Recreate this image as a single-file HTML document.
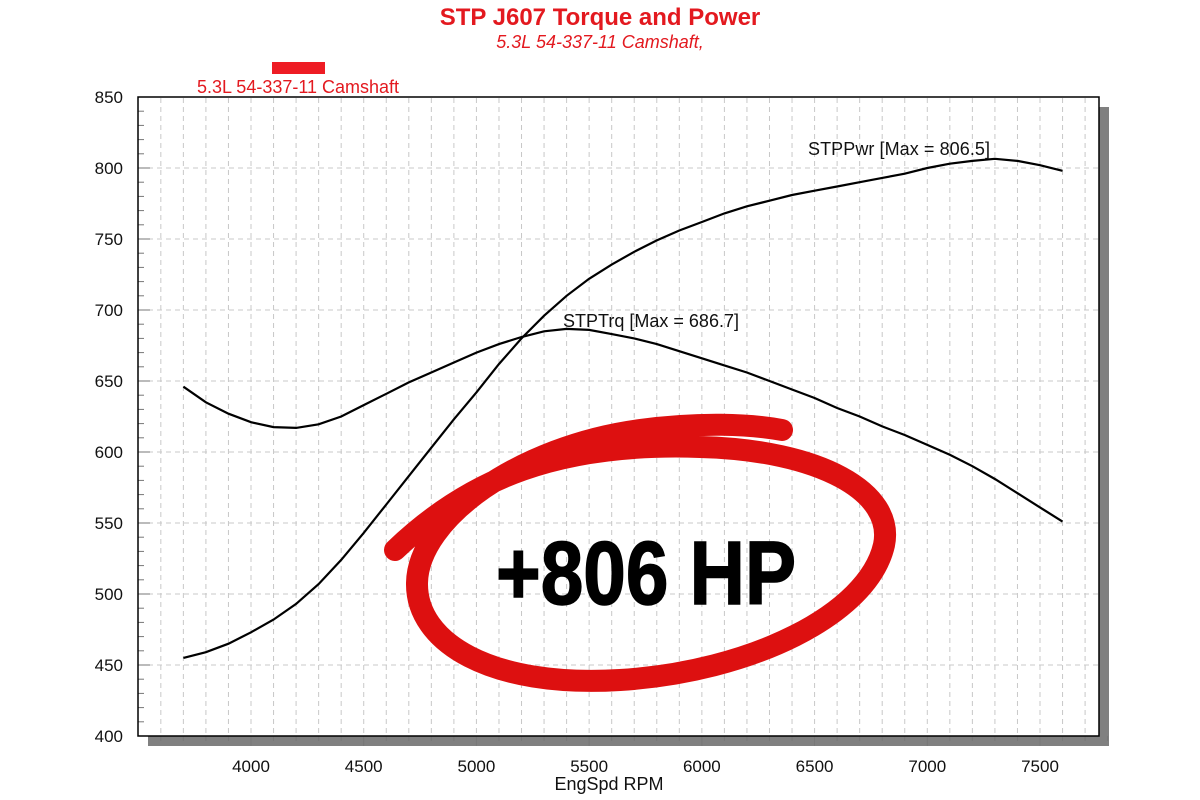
<!DOCTYPE html>
<html><head><meta charset="utf-8"><style>
html,body{margin:0;padding:0;background:#fff;}
svg{display:block;}
</style></head><body>
<svg id="s" width="1200" height="800" xmlns="http://www.w3.org/2000/svg" font-family="Liberation Sans, Arial, sans-serif">
<text x="600" y="25" text-anchor="middle" font-size="24" font-weight="bold" fill="#e3191f">STP J607 Torque and Power</text>
<text x="600" y="48" text-anchor="middle" font-size="18" font-style="italic" fill="#e3191f">5.3L 54-337-11 Camshaft,</text>
<rect x="272" y="62" width="53" height="12" fill="#ee1c24"/>
<text x="298" y="93" text-anchor="middle" font-size="18" fill="#e3191f">5.3L 54-337-11 Camshaft</text>
<rect x="148" y="107" width="961" height="639" fill="#808080"/>
<rect x="138" y="97" width="961" height="639" fill="#fff"/>
<g id="grid" stroke="#c8c8c8" stroke-width="1" stroke-dasharray="5,4"></g>
<g id="ticks" stroke="#777" stroke-width="1"></g>
<rect x="138" y="97" width="961" height="639" fill="none" stroke="#000" stroke-width="1.5"/>
<g id="labels" font-size="17" fill="#111"></g>
<text x="609" y="790" text-anchor="middle" font-size="18" fill="#111">EngSpd RPM</text>
<path id="pwr" fill="none" stroke="#000" stroke-width="2.2"/>
<path id="trq" fill="none" stroke="#000" stroke-width="2.2"/>
<text x="808" y="155" font-size="18" fill="#111" textLength="182">STPPwr [Max = 806.5]</text>
<text x="563" y="327" font-size="18" fill="#111" textLength="176">STPTrq [Max = 686.7]</text>
<path d="M395,550 C470,478 560,442 700,447 C820,450 895,492 884,545 C868,615 750,672 620,680 C490,688 416,642 417,583 C418,518 520,446 640,430 C700,422 750,424 782,430" fill="none" stroke="#dd1010" stroke-width="22" stroke-linecap="round"/>
<text x="496" y="604" font-size="90" font-weight="bold" fill="#000" stroke="#000" stroke-width="1.5" textLength="300" lengthAdjust="spacingAndGlyphs">+806 HP</text>
</svg>
<script>
const X=r=>251+(r-4000)*0.22543, Y=v=>97+(850-v)*1.42;
const ns="http://www.w3.org/2000/svg";
function el(p,t,a,txt){const e=document.createElementNS(ns,t);for(const k in a)e.setAttribute(k,a[k]);if(txt)e.textContent=txt;document.getElementById(p).appendChild(e);}
for(let r=3600;r<=7800;r+=100){const x=X(r);if(x>139&&x<1098)el("grid","line",{x1:x,x2:x,y1:98,y2:735});
 el("ticks","line",{x1:x,x2:x,y1:736,y2:r%500==0?746:741});}
for(let v=400;v<=850;v+=10){const y=Y(v);
 if(v%50==0&&v>400&&v<850)el("grid","line",{x1:139,x2:1098,y1:y,y2:y});
 el("ticks","line",{x1:138,x2:v%50==0?150:144,y1:y,y2:y});
 if(v%50==0)el("labels","text",{x:123,y:y+6,"text-anchor":"end"},String(v));}
for(let r=4000;r<=7500;r+=500)el("labels","text",{x:X(r),y:772,"text-anchor":"middle"},String(r));
const p=[[3700,455],[3800,459],[3900,465],[4000,473],[4100,482],[4200,493],[4300,507],[4400,524],[4500,543],[4600,563],[4700,583],[4800,603],[4900,623],[5000,642],[5100,662],[5200,680],[5300,696],[5400,710],[5500,722],[5600,732],[5700,741],[5800,749],[5900,756],[6000,762],[6100,768],[6200,773],[6300,777],[6400,781],[6500,784],[6600,787],[6700,790],[6800,793],[6900,796],[7000,800],[7100,803],[7200,805],[7300,806.5],[7400,805],[7500,802],[7600,798]];
const t=[[3700,646],[3800,635],[3900,627],[4000,621],[4100,617.5],[4200,617],[4300,619.5],[4400,625],[4500,633],[4600,641],[4700,649],[4800,656],[4900,663],[5000,670],[5100,676],[5200,681],[5300,685],[5400,686.7],[5500,686],[5600,683],[5700,680],[5800,676],[5900,671],[6000,666],[6100,661],[6200,656],[6300,650],[6400,644],[6500,638],[6600,631],[6700,625],[6800,618],[6900,612],[7000,605],[7100,598],[7200,590],[7300,581],[7400,571],[7500,561],[7600,551]];
const d=a=>"M"+a.map(q=>X(q[0]).toFixed(1)+","+Y(q[1]).toFixed(1)).join(" L");
document.getElementById("pwr").setAttribute("d",d(p));
document.getElementById("trq").setAttribute("d",d(t));
</script>
</body></html>
